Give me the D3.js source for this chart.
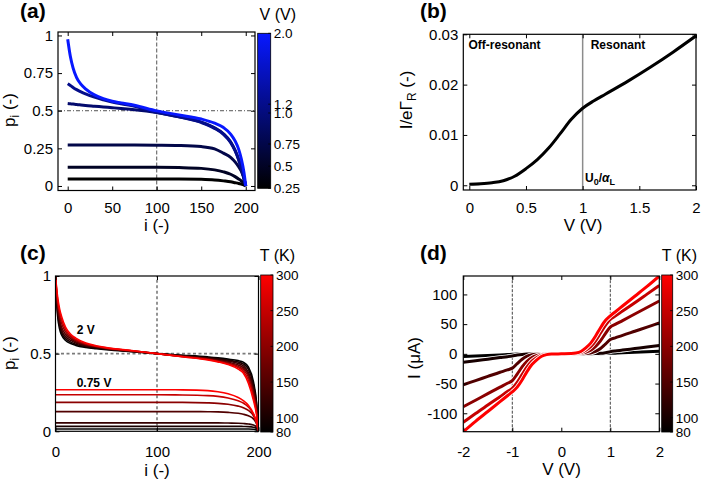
<!DOCTYPE html>
<html><head><meta charset="utf-8">
<script src="https://cdn.jsdelivr.net/npm/d3@7"></script>
<style>
body{margin:0;background:#fff;}
svg{display:block;}
text{font-family:"Liberation Sans",Arial,Helvetica,sans-serif;fill:#000;}
</style></head><body>
<svg id="chart" width="703" height="481"></svg>
<script>
// ---------- Panel (a): occupation p_i vs site i for several bias voltages ----------
const iA = [0, 3, 6, 10, 15, 20, 30, 40, 50, 60, 75, 100, 125, 150, 165, 175, 183, 188, 192, 195, 198, 200];
const voltagesA = [0.25, 0.5, 0.75, 1.0, 1.2, 2.0];
const pA_025 = [0.046,0.046,0.046,0.046,0.046,0.046,0.046,0.046,0.046,0.046,0.046,0.046,0.046,0.044,0.040,0.034,0.028,0.022,0.017,0.012,0.006,0.0];
const pA_050 = [0.124,0.124,0.124,0.124,0.124,0.124,0.124,0.124,0.124,0.124,0.124,0.124,0.122,0.117,0.107,0.094,0.078,0.062,0.047,0.034,0.016,0.0];
const pA_075 = [0.272,0.272,0.272,0.272,0.272,0.272,0.272,0.272,0.272,0.272,0.272,0.271,0.269,0.262,0.247,0.218,0.190,0.160,0.128,0.098,0.052,0.0];
const pA_100 = [0.548,0.546,0.544,0.541,0.538,0.535,0.530,0.525,0.520,0.515,0.507,0.488,0.460,0.424,0.386,0.347,0.293,0.238,0.178,0.122,0.050,0.0];
const pA_120 = [0.680,0.668,0.655,0.640,0.625,0.612,0.590,0.573,0.558,0.546,0.530,0.489,0.459,0.422,0.383,0.343,0.289,0.234,0.174,0.118,0.048,0.0];
const pA_200 = [0.975,0.860,0.785,0.720,0.675,0.645,0.605,0.580,0.563,0.552,0.536,0.499,0.472,0.445,0.417,0.388,0.345,0.300,0.245,0.180,0.090,0.0];
const seriesA = [pA_025, pA_050, pA_075, pA_100, pA_120, pA_200];
const cbarATickPos = [0.25, 0.5, 0.75, 1.1, 1.2, 2.0];
const cbarATickLabels = ["0.25", "0.5", "0.75", "1.0", "1.2", "2.0"];

// ---------- Panel (b): normalised current vs voltage ----------
const vB = [0, 0.1, 0.2, 0.3, 0.4, 0.5, 0.6, 0.7, 0.8, 0.9, 1.0, 1.1, 1.2, 1.4, 1.6, 1.8, 2.0];
const iB = [0.0002, 0.0003, 0.0005, 0.0009, 0.0018, 0.0033, 0.0051, 0.0074, 0.0102, 0.0131, 0.0153, 0.0168, 0.0181, 0.0207, 0.0235, 0.0265, 0.0297];

// ---------- Panel (c): p_i vs i for several temperatures at 2 V and 0.75 V ----------
const iC = [0, 1, 2, 4, 6, 10, 15, 20, 30, 40, 50, 75, 100, 125, 150, 160, 170, 180, 185, 190, 195, 198, 200];
const tempsC = [80, 100, 125, 150, 200, 250, 300];
const pC2V_80  = [1.0,0.850,0.750,0.660,0.620,0.585,0.565,0.553,0.540,0.532,0.525,0.512,0.5,0.490,0.479,0.473,0.465,0.455,0.445,0.415,0.320,0.190,0.0];
const pC2V_100 = [1.0,0.860,0.770,0.680,0.635,0.597,0.574,0.561,0.545,0.536,0.528,0.514,0.5,0.487,0.475,0.468,0.458,0.446,0.434,0.400,0.300,0.180,0.0];
const pC2V_125 = [1.0,0.875,0.790,0.700,0.650,0.610,0.585,0.568,0.550,0.540,0.531,0.515,0.5,0.485,0.471,0.463,0.452,0.437,0.422,0.380,0.280,0.165,0.0];
const pC2V_150 = [1.0,0.890,0.810,0.720,0.670,0.625,0.596,0.577,0.555,0.543,0.533,0.516,0.5,0.483,0.468,0.458,0.445,0.427,0.410,0.365,0.260,0.150,0.0];
const pC2V_200 = [1.0,0.905,0.830,0.745,0.695,0.640,0.607,0.585,0.559,0.546,0.535,0.518,0.5,0.482,0.465,0.454,0.439,0.418,0.398,0.350,0.240,0.135,0.0];
const pC2V_250 = [1.0,0.918,0.850,0.770,0.718,0.655,0.616,0.592,0.563,0.548,0.537,0.519,0.5,0.481,0.462,0.450,0.434,0.410,0.387,0.330,0.220,0.120,0.0];
const pC2V_300 = [1.0,0.930,0.870,0.790,0.740,0.670,0.625,0.600,0.568,0.551,0.539,0.520,0.5,0.480,0.460,0.447,0.430,0.400,0.375,0.310,0.200,0.110,0.0];
const pC075_80  = [0.015,0.015,0.015,0.015,0.015,0.015,0.015,0.015,0.015,0.015,0.015,0.015,0.015,0.015,0.015,0.015,0.015,0.015,0.015,0.0148,0.013,0.009,0.0];
const pC075_100 = [0.032,0.032,0.032,0.032,0.032,0.032,0.032,0.032,0.032,0.032,0.032,0.032,0.032,0.032,0.032,0.032,0.032,0.032,0.031,0.030,0.026,0.018,0.0];
const pC075_125 = [0.054,0.054,0.054,0.054,0.054,0.054,0.054,0.054,0.054,0.054,0.054,0.054,0.054,0.054,0.054,0.054,0.053,0.052,0.050,0.047,0.040,0.028,0.0];
const pC075_150 = [0.127,0.127,0.127,0.127,0.127,0.127,0.127,0.127,0.127,0.127,0.127,0.127,0.127,0.127,0.126,0.125,0.122,0.116,0.110,0.100,0.080,0.048,0.0];
const pC075_200 = [0.186,0.186,0.186,0.186,0.186,0.186,0.186,0.186,0.186,0.186,0.186,0.186,0.186,0.186,0.183,0.180,0.174,0.162,0.152,0.135,0.100,0.055,0.0];
const pC075_250 = [0.235,0.235,0.235,0.235,0.235,0.235,0.235,0.235,0.235,0.235,0.235,0.235,0.235,0.234,0.230,0.225,0.215,0.197,0.182,0.157,0.110,0.058,0.0];
const pC075_300 = [0.268,0.268,0.268,0.268,0.268,0.268,0.268,0.268,0.268,0.268,0.268,0.268,0.268,0.267,0.262,0.255,0.242,0.218,0.198,0.168,0.115,0.060,0.0];
const seriesC2V = [pC2V_80, pC2V_100, pC2V_125, pC2V_150, pC2V_200, pC2V_250, pC2V_300];
const seriesC075 = [pC075_80, pC075_100, pC075_125, pC075_150, pC075_200, pC075_250, pC075_300];

// ---------- Panel (d): I-V curves for several temperatures ----------
const vD = [-2, -1.75, -1.5, -1.25, -1.1, -1, -0.9, -0.8, -0.7, -0.6, -0.5, -0.4, -0.3, -0.2, 0, 0.2, 0.3, 0.4, 0.5, 0.6, 0.7, 0.8, 0.9, 1, 1.1, 1.25, 1.5, 1.75, 2];
const tempsD = [80, 100, 150, 200, 250, 300];
const iD_80  = [-4.5,-3.6,-2.7,-1.8,-1.2,-0.8,-0.4,-0.2,-0.1,-0.05,0,0,0,0,0,0,0,0,0,0.05,0.1,0.2,0.4,0.8,1.2,1.8,2.7,3.6,4.5];
const iD_100 = [-14,-11.5,-8.9,-6.3,-4.8,-3.6,-2,-0.9,-0.4,-0.2,-0.1,0,0,0,0,0,0,0,0.1,0.2,0.4,0.9,2,3.6,4.8,6.3,8.9,11.5,14];
const iD_150 = [-52,-45,-38,-31,-27,-24,-16.5,-9,-4,-1.5,-0.6,-0.2,-0.1,0,0,0,0.1,0.2,0.6,1.5,4,9,16.5,24,27,31,38,45,52];
const iD_200 = [-89,-78,-67,-56,-49.5,-45,-34,-22,-12.5,-6,-2.6,-0.9,-0.3,-0.1,0,0.1,0.3,0.9,2.6,6,12.5,22,34,45,49.5,56,67,78,89];
const iD_250 = [-115,-100.5,-86,-72,-63.5,-58,-48,-35,-22,-12,-6,-2.2,-0.7,-0.2,0,0.2,0.7,2.2,6,12,22,35,48,58,63.5,72,86,100.5,115];
const iD_300 = [-131,-113.5,-97,-80.5,-70.5,-64,-56,-44,-30,-18,-10,-4,-1.3,-0.4,0,0.4,1.3,4,10,18,30,44,56,64,70.5,80.5,97,113.5,131];
const seriesD = [iD_80, iD_100, iD_150, iD_200, iD_250, iD_300];
const cbarTTicks = [80, 100, 150, 200, 250, 300];

// ================= drawing =================
const svg = d3.select("#chart");
const blueMap = d3.interpolateRgb("#000000", "#0818ff");
const redMap = d3.interpolateRgb("#000000", "#ff0000");
const defs = svg.append("defs");

function axesBox(g, x, y, xt, xf, yt, yf, padX, padY) {
  const [x0, x1] = x.range(), [y0, y1] = y.range();
  const style = sel => {
    sel.select(".domain").remove();
    sel.selectAll(".tick line").attr("stroke", "#000").attr("stroke-width", 1);
    sel.selectAll(".tick text").attr("font-size", 15).attr("fill", "#000")
      .attr("font-family", '"Liberation Sans",Arial,sans-serif');
  };
  g.append("g").attr("transform", `translate(0,${y0})`)
    .call(d3.axisBottom(x).tickValues(xt).tickFormat(xf).tickSizeInner(-4).tickSizeOuter(0).tickPadding(padX)).call(style);
  g.append("g").attr("transform", `translate(0,${y1})`)
    .call(d3.axisTop(x).tickValues(xt).tickFormat("").tickSizeInner(-4).tickSizeOuter(0)).call(style);
  g.append("g").attr("transform", `translate(${x0},0)`)
    .call(d3.axisLeft(y).tickValues(yt).tickFormat(yf).tickSizeInner(-4).tickSizeOuter(0).tickPadding(padY)).call(style);
  g.append("g").attr("transform", `translate(${x1},0)`)
    .call(d3.axisRight(y).tickValues(yt).tickFormat("").tickSizeInner(-4).tickSizeOuter(0)).call(style);
  g.append("rect").attr("x", x0).attr("y", y1).attr("width", x1 - x0).attr("height", y0 - y1)
    .attr("fill", "none").attr("stroke", "#000").attr("stroke-width", 1.2);
}

function clip(id, x, y) {
  const [x0, x1] = x.range(), [y0, y1] = y.range();
  defs.append("clipPath").attr("id", id).append("rect")
    .attr("x", x0).attr("y", y1).attr("width", x1 - x0).attr("height", y0 - y1);
  return `url(#${id})`;
}

function colorbar(id, x0, x1, y0, y1, scale, cmap, ticks, labels, title, titleX, titleY, fs) {
  const grad = defs.append("linearGradient").attr("id", id).attr("x1", 0).attr("y1", 1).attr("x2", 0).attr("y2", 0);
  d3.range(0, 1.0001, 0.1).forEach(t => grad.append("stop").attr("offset", t).attr("stop-color", cmap(t)));
  svg.append("rect").attr("x", x0).attr("y", y0).attr("width", x1 - x0).attr("height", y1 - y0)
    .attr("fill", `url(#${id})`).attr("stroke", "#000").attr("stroke-width", 0.8);
  ticks.forEach((v, k) => {
    const yy = scale(v);
    svg.append("line").attr("x1", x1 - 2.5).attr("x2", x1).attr("y1", yy).attr("y2", yy).attr("stroke", "#000").attr("stroke-width", 0.8);
    svg.append("text").attr("x", x1 + 3).attr("y", yy).attr("dy", "0.36em").attr("font-size", fs).text(labels[k]);
  });
  svg.append("text").attr("x", titleX).attr("y", titleY).attr("text-anchor", "end").attr("font-size", 16).text(title);
}

function panelLabel(txt, x, y) {
  svg.append("text").attr("x", x).attr("y", y).attr("font-family", '"Liberation Serif","Times New Roman",serif')
    .attr("font-weight", "bold").attr("font-size", 21).text(txt);
}

function yLabel(parts, x, y) {
  const t = svg.append("text").attr("transform", `translate(${x},${y}) rotate(-90)`).attr("text-anchor", "middle").attr("font-size", 17);
  parts.forEach(p => {
    const s = t.append("tspan").text(p.t);
    if (p.sub) s.attr("font-size", 12).attr("dy", 4);
    if (p.after) s.attr("dy", -4);
  });
}

function xLabel(txt, x, y) {
  svg.append("text").attr("x", x).attr("y", y).attr("text-anchor", "middle").attr("font-size", 17).text(txt);
}

// ----- Panel (a) -----
{
  const x = d3.scaleLinear().domain([-10.9, 210.4]).range([58, 255]);
  const y = d3.scaleLinear().domain([-0.03, 1.023]).range([190.5, 32]);
  const g = svg.append("g");
  const cp = clip("clipA", x, y);
  g.append("line").attr("x1", x(100)).attr("x2", x(100)).attr("y1", y.range()[0]).attr("y2", y.range()[1])
    .attr("stroke", "#555").attr("stroke-width", 1).attr("stroke-dasharray", "4,2");
  g.append("line").attr("x1", x.range()[0]).attr("x2", x.range()[1]).attr("y1", y(0.5)).attr("y2", y(0.5))
    .attr("stroke", "#555").attr("stroke-width", 1).attr("stroke-dasharray", "4,2,1,2");
  const cScale = d3.scaleLinear().domain([0.25, 2.0]).range([0, 1]);
  const line = d3.line().x((d, k) => x(iA[k])).y(d => y(d)).curve(d3.curveMonotoneX);
  seriesA.forEach((s, k) => {
    g.append("path").attr("d", line(s)).attr("fill", "none").attr("clip-path", cp)
      .attr("stroke", blueMap(cScale(voltagesA[k]))).attr("stroke-width", 3);
  });
  axesBox(g, x, y, [0, 50, 100, 150, 200], d3.format("d"), [0, 0.25, 0.5, 0.75, 1], d => String(d), 12, 5);
  const cb = d3.scaleLinear().domain([0.25, 2.0]).range([188.3, 33.3]);
  colorbar("gradA", 257.7, 270.7, 33.3, 188.3, cb, blueMap, cbarATickPos, cbarATickLabels, "V (V)", 296, 20, 13.5);
  xLabel("i (-)", 156.7, 231);
  yLabel([{t: "p"}, {t: "i", sub: true}, {t: " (-)", after: true}], 15, 110);
  panelLabel("(a)", 20, 18);
}

// ----- Panel (b) -----
{
  const x = d3.scaleLinear().domain([-0.053, 2.0]).range([463.3, 696]);
  const y = d3.scaleLinear().domain([-0.00094, 0.03]).range([190, 34.3]);
  const g = svg.append("g");
  const cp = clip("clipB", x, y);
  g.append("line").attr("x1", x(1)).attr("x2", x(1)).attr("y1", y.range()[0]).attr("y2", y.range()[1])
    .attr("stroke", "#8c8c8c").attr("stroke-width", 1.5);
  const line = d3.line().x((d, k) => x(vB[k])).y(d => y(d)).curve(d3.curveMonotoneX);
  g.append("path").attr("d", line(iB)).attr("fill", "none").attr("stroke", "#000").attr("stroke-width", 3).attr("clip-path", cp);
  axesBox(g, x, y, [0, 0.5, 1, 1.5, 2], d => String(d), [0, 0.01, 0.02, 0.03], d => d === 0 ? "0" : d.toFixed(2), 12.5, 5);
  g.append("text").attr("x", 468.5).attr("y", 48.5).attr("font-size", 12).attr("font-weight", "bold").text("Off-resonant");
  g.append("text").attr("x", 590.7).attr("y", 48.5).attr("font-size", 12).attr("font-weight", "bold").text("Resonant");
  const u = g.append("text").attr("x", 585).attr("y", 182).attr("font-size", 12).attr("font-weight", "bold");
  u.append("tspan").text("U");
  u.append("tspan").attr("font-size", 9).attr("dy", 3).text("0");
  u.append("tspan").attr("dy", -3).text("/");
  u.append("tspan").attr("font-style", "italic").text("α");
  u.append("tspan").attr("font-size", 9).attr("dy", 3).text("L");
  xLabel("V (V)", 583, 231);
  yLabel([{t: "I/eΓ"}, {t: "R", sub: true}, {t: " (-)", after: true}], 412, 100);
  panelLabel("(b)", 420, 18);
}

// ----- Panel (c) -----
{
  const x = d3.scaleLinear().domain([0, 200]).range([55.5, 258.5]);
  const y = d3.scaleLinear().domain([0, 1]).range([431.3, 276]);
  const g = svg.append("g");
  const cp = clip("clipC", x, y);
  g.append("line").attr("x1", x(100)).attr("x2", x(100)).attr("y1", y.range()[0]).attr("y2", y.range()[1])
    .attr("stroke", "#7a7a7a").attr("stroke-width", 1.6).attr("stroke-dasharray", "3,2.5");
  g.append("line").attr("x1", x.range()[0]).attr("x2", x.range()[1]).attr("y1", y(0.5)).attr("y2", y(0.5))
    .attr("stroke", "#7a7a7a").attr("stroke-width", 1.6).attr("stroke-dasharray", "3,2.5");
  const cScale = d3.scaleLinear().domain([80, 300]).range([0, 1]);
  const line = d3.line().x((d, k) => x(iC[k])).y(d => y(d)).curve(d3.curveMonotoneX);
  seriesC075.forEach((s, k) => {
    g.append("path").attr("d", line(s)).attr("fill", "none").attr("clip-path", cp)
      .attr("stroke", redMap(cScale(tempsC[k]))).attr("stroke-width", 1.6);
  });
  seriesC2V.forEach((s, k) => {
    g.append("path").attr("d", line(s)).attr("fill", "none").attr("clip-path", cp)
      .attr("stroke", redMap(cScale(tempsC[k]))).attr("stroke-width", 1.6);
  });
  axesBox(g, x, y, [0, 100, 200], d3.format("d"), [0, 0.5, 1], d => String(d), 15, 4.5);
  g.append("text").attr("x", 76.7).attr("y", 334).attr("font-size", 12).attr("font-weight", "bold").text("2 V");
  g.append("text").attr("x", 76.7).attr("y", 386.5).attr("font-size", 12).attr("font-weight", "bold").text("0.75 V");
  const cb = d3.scaleLinear().domain([80, 300]).range([432, 275]);
  colorbar("gradC", 260.7, 273, 275, 432, cb, redMap, cbarTTicks, cbarTTicks.map(String), "T (K)", 295, 261, 13.5);
  xLabel("i (-)", 157, 476);
  yLabel([{t: "p"}, {t: "i", sub: true}, {t: " (-)", after: true}], 15, 353);
  panelLabel("(c)", 20, 259.5);
}

// ----- Panel (d) -----
{
  const x = d3.scaleLinear().domain([-2, 2]).range([463.3, 659.3]);
  const y = d3.scaleLinear().domain([-131, 131]).range([431.7, 276]);
  const g = svg.append("g");
  const cp = clip("clipD", x, y);
  [-1, 1].forEach(v => g.append("line").attr("x1", x(v)).attr("x2", x(v)).attr("y1", y.range()[0]).attr("y2", y.range()[1])
    .attr("stroke", "#444").attr("stroke-width", 1).attr("stroke-dasharray", "3,1.5"));
  const cScale = d3.scaleLinear().domain([80, 300]).range([0, 1]);
  const line = d3.line().x((d, k) => x(vD[k])).y(d => y(d)).curve(d3.curveMonotoneX);
  seriesD.forEach((s, k) => {
    g.append("path").attr("d", line(s)).attr("fill", "none").attr("clip-path", cp)
      .attr("stroke", "#fff").attr("stroke-width", 4.6);
    g.append("path").attr("d", line(s)).attr("fill", "none").attr("clip-path", cp)
      .attr("stroke", redMap(cScale(tempsD[k]))).attr("stroke-width", 3);
  });
  axesBox(g, x, y, [-2, -1, 0, 1, 2], d => String(d), [-100, -50, 0, 50, 100], d => String(d), 14.5, 6);
  const cb = d3.scaleLinear().domain([80, 300]).range([432, 275]);
  colorbar("gradD", 661.7, 672.7, 275, 432, cb, redMap, cbarTTicks, cbarTTicks.map(String), "T (K)", 697, 261, 13.5);
  xLabel("V (V)", 561.5, 475);
  yLabel([{t: "I (μA)"}], 420, 358);
  panelLabel("(d)", 420, 259.5);
}
</script></body></html>
